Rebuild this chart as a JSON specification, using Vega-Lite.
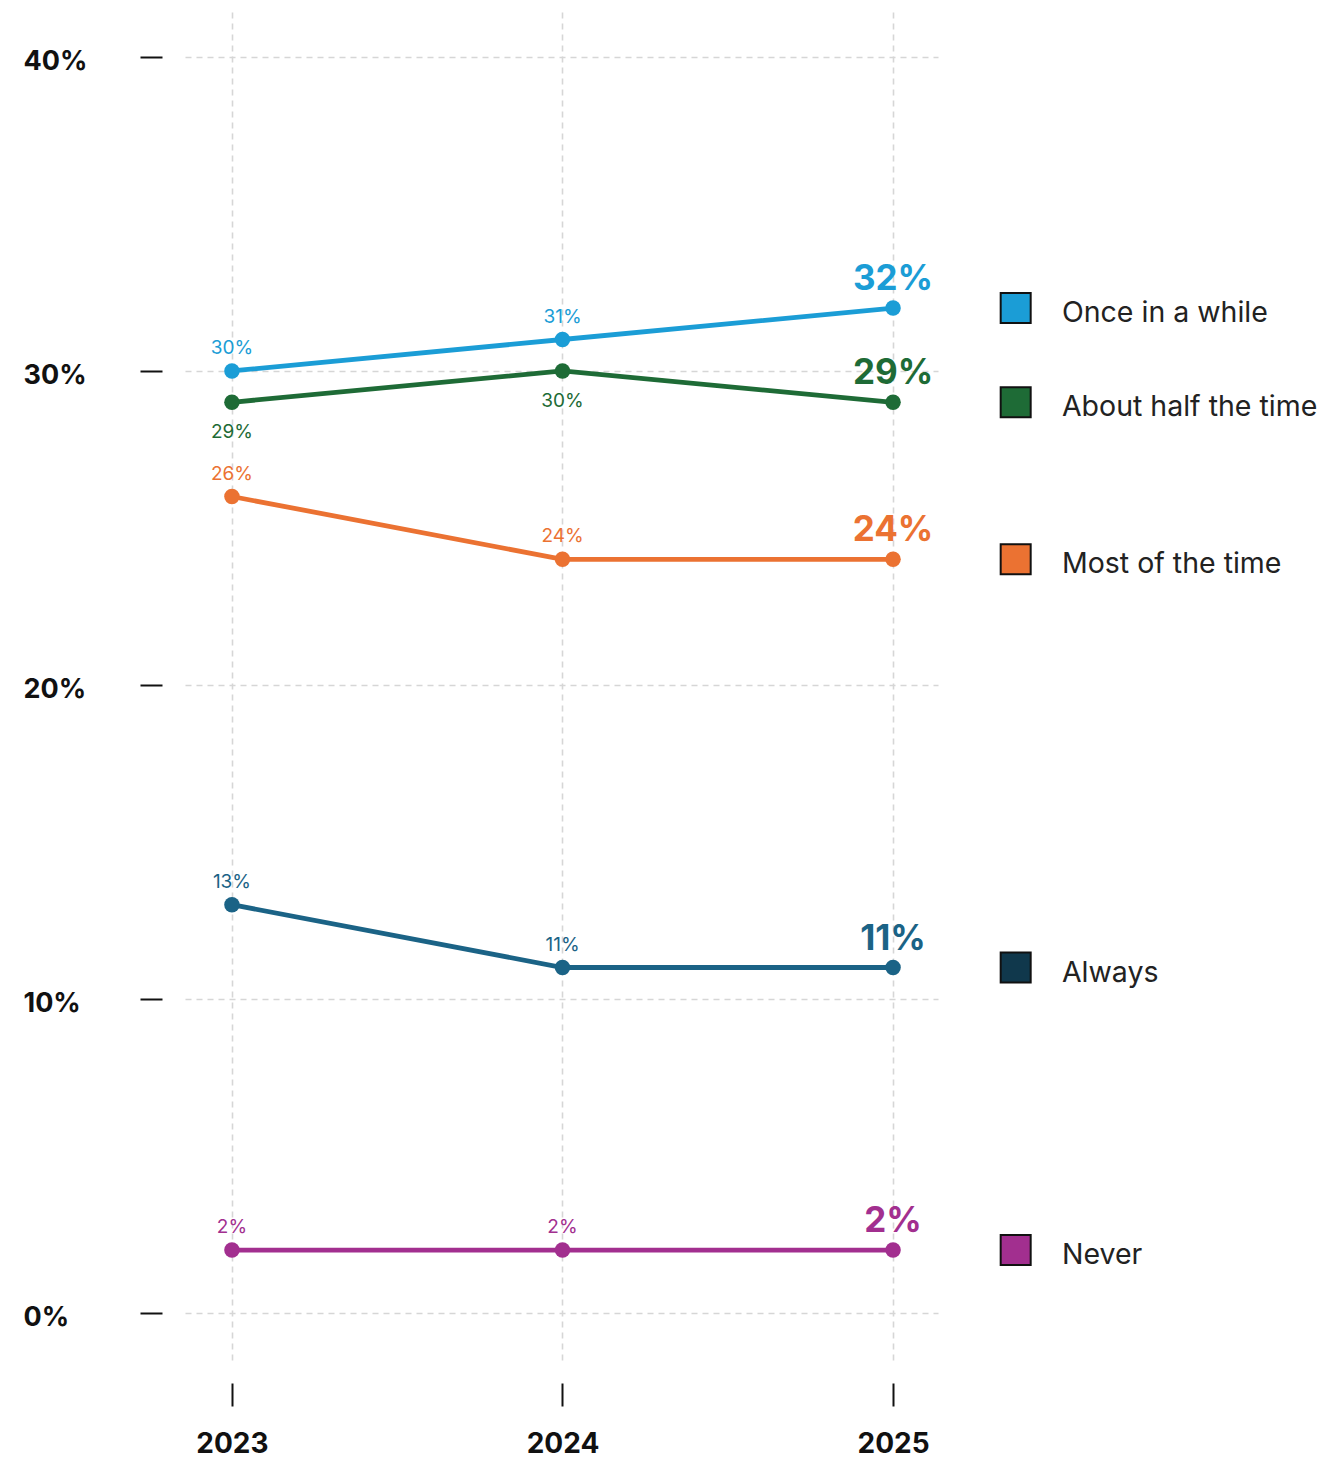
{
  "$schema": "https://vega.github.io/schema/vega-lite/v6.json",
  "autosize": {"type": "none"},
  "padding": {"left": 185, "top": 12, "right": 388, "bottom": 98},
  "width": 753,
  "height": 1348,
  "background": "white",
  "config": {
    "view": {"stroke": null},
    "font": "Inter",
    "axis": {
      "domain": false,
      "grid": true,
      "gridColor": "#d6d6d6",
      "gridDash": [6, 5],
      "gridWidth": 1.6,
      "tickColor": "#111111",
      "tickWidth": 2,
      "labelFont": "Inter",
      "labelFontWeight": 700,
      "labelFontSize": 28,
      "labelColor": "#111111",
      "title": null
    }
  },
  "data": {
    "values": [
      {"category": "Once in a while", "year": 2023, "value": 0.30},
      {"category": "Once in a while", "year": 2024, "value": 0.31},
      {"category": "Once in a while", "year": 2025, "value": 0.32},
      {"category": "About half the time", "year": 2023, "value": 0.29},
      {"category": "About half the time", "year": 2024, "value": 0.30},
      {"category": "About half the time", "year": 2025, "value": 0.29},
      {"category": "Most of the time", "year": 2023, "value": 0.26},
      {"category": "Most of the time", "year": 2024, "value": 0.24},
      {"category": "Most of the time", "year": 2025, "value": 0.24},
      {"category": "Always", "year": 2023, "value": 0.13},
      {"category": "Always", "year": 2024, "value": 0.11},
      {"category": "Always", "year": 2025, "value": 0.11},
      {"category": "Never", "year": 2023, "value": 0.02},
      {"category": "Never", "year": 2024, "value": 0.02},
      {"category": "Never", "year": 2025, "value": 0.02}
    ]
  },
  "encoding": {
    "x": {
      "field": "year",
      "type": "quantitative",
      "scale": {"domain": [2022.858, 2025.136], "nice": false, "zero": false},
      "axis": {
        "values": [2023, 2024, 2025],
        "format": "d",
        "offset": 23,
        "tickSize": 23,
        "labelPadding": 24,
        "labelFlush": false
      }
    },
    "y": {
      "field": "value",
      "type": "quantitative",
      "scale": {"domain": [-0.015, 0.4143], "nice": false, "zero": false},
      "axis": {
        "values": [0, 0.1, 0.2, 0.3, 0.4],
        "format": ".0%",
        "offset": 23,
        "tickSize": 22,
        "labelAlign": "left",
        "labelPadding": 117,
        "labelBaseline": "middle",
        "labelOffset": 5,
        "labelFontSize": 27
      }
    },
    "color": {
      "field": "category",
      "type": "nominal",
      "scale": {
        "domain": ["Once in a while", "About half the time", "Most of the time", "Always", "Never"],
        "range": ["#1b9dd6", "#1e6b36", "#eb7232", "#1b6386", "#a22f8f"]
      },
      "legend": null
    }
  },
  "layer": [
    {
      "mark": {"type": "line", "strokeWidth": 4.8}
    },
    {
      "mark": {"type": "point", "shape": "circle", "filled": true, "size": 240, "opacity": 1}
    },
    {
      "transform": [{"filter": "datum.year < 2025 && datum.category != 'About half the time'"}],
      "mark": {"type": "text", "fontSize": 19, "dy": -23, "baseline": "middle", "align": "center"},
      "encoding": {"text": {"field": "value", "type": "quantitative", "format": ".0%"}}
    },
    {
      "transform": [{"filter": "datum.year < 2025 && datum.category == 'About half the time'"}],
      "mark": {"type": "text", "fontSize": 19, "dy": 30, "baseline": "middle", "align": "center"},
      "encoding": {"text": {"field": "value", "type": "quantitative", "format": ".0%"}}
    },
    {
      "transform": [{"filter": "datum.year == 2025"}],
      "mark": {"type": "text", "fontSize": 35, "fontWeight": 700, "dy": -29, "baseline": "middle", "align": "center"},
      "encoding": {"text": {"field": "value", "type": "quantitative", "format": ".0%"}}
    },
    {
      "transform": [{"filter": "datum.year == 2025"}],
      "mark": {"type": "point", "shape": "square", "filled": true, "size": 900, "stroke": "#111111", "strokeWidth": 2, "opacity": 1},
      "encoding": {
        "x": {"datum": 2025.371, "type": "quantitative"},
        "color": {"value": null},
        "fill": {
          "field": "category",
          "type": "nominal",
          "scale": {
            "domain": ["Once in a while", "About half the time", "Most of the time", "Always", "Never"],
            "range": ["#1b9dd6", "#1e6b36", "#eb7232", "#10384c", "#a22f8f"]
          },
          "legend": null
        }
      }
    },
    {
      "transform": [{"filter": "datum.year == 2025"}],
      "mark": {"type": "text", "fontSize": 28.5, "dy": 5, "baseline": "middle", "align": "left"},
      "encoding": {
        "x": {"datum": 2025.511, "type": "quantitative"},
        "color": {"value": "#222222"},
        "text": {"field": "category", "type": "nominal"}
      }
    }
  ]
}
